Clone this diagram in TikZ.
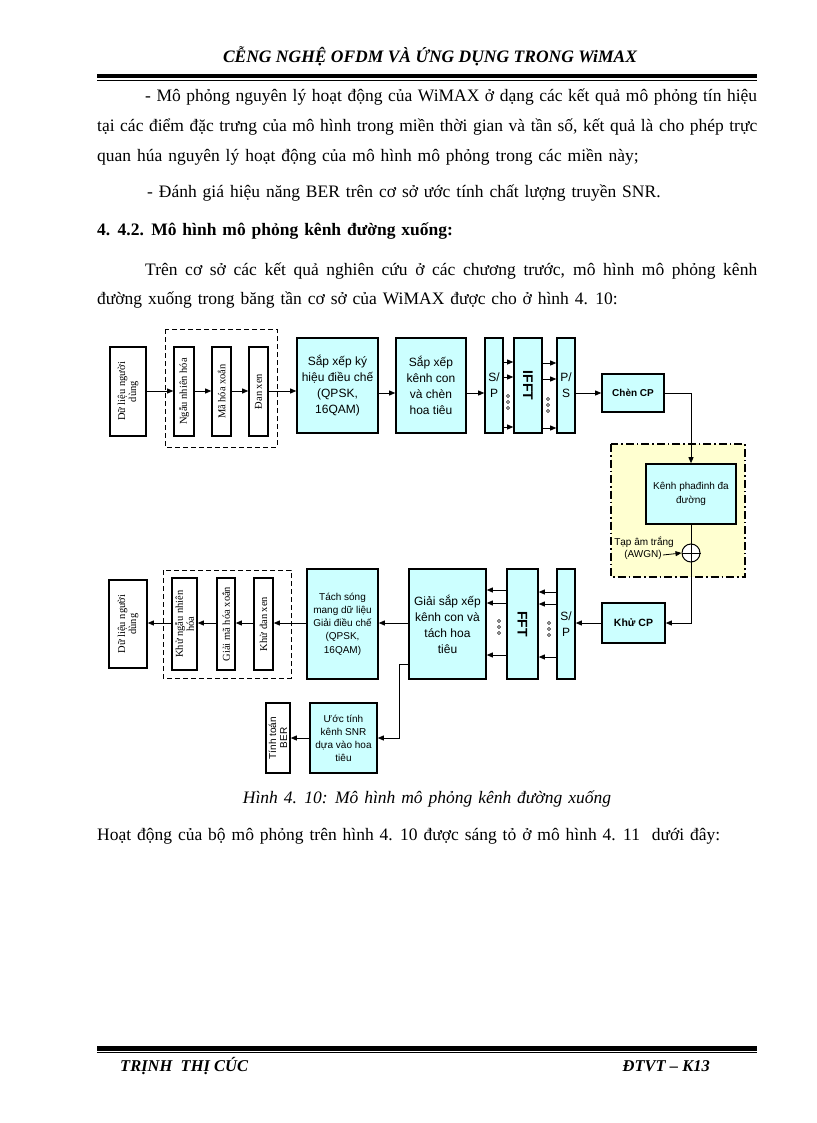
\documentclass[tikz,border=0pt]{standalone}
\usepackage{fontspec}
\setmainfont{Liberation Serif}
\newfontfamily\bodyf[WordSpace=1.35]{Liberation Serif}
\newfontfamily\sansf{Liberation Sans}
\usetikzlibrary{arrows.meta,calc}
\definecolor{cy}{RGB}{204,255,255}
\definecolor{yl}{RGB}{255,255,208}
\begin{document}
\begin{tikzpicture}[x=1pt,y=-1pt,
 sz/.style 2 args={minimum width=#1pt,minimum height=#2pt},
 wbox/.style={draw,line width=1.6pt,fill=white,inner sep=0pt},
 cbox/.style={draw,line width=1.6pt,fill=cy,inner sep=0pt,align=center,font=\sansf\fontsize{12}{16}\selectfont},
 rtxt/.style={rotate=90,align=center,inner sep=0pt,font=\fontsize{10.5}{11}\selectfont},
 arr/.style={-{Triangle[length=6pt,width=5pt]},line width=0.8pt},
 dbox/.style={line width=1pt,dash pattern=on 5pt off 3pt},
 body/.style={anchor=base west,inner sep=0pt,font=\bodyf\fontsize{17.5}{20}\selectfont},
 dotc/.style={fill=gray!50,draw=black,line width=0.4pt},
]
\useasboundingbox (0,0) rectangle (816,1123);
\fill[white] (0,0) rectangle (816,1123);

% header
\node[anchor=base,inner sep=0pt,font=\fontsize{17.5}{20}\selectfont\bfseries\itshape] (hdr) at (430,63) {CỄNG NGHỆ OFDM VÀ ỨNG DỤNG TRONG WiMAX};
\fill (97,74) rectangle (757,78.5);
\draw[line width=0.6pt] (97,80.5) -- (757,80.5);

% body text
\node[body] (l1) at (145,102) {\hbox to 612pt{- Mô phỏng nguyên lý hoạt động của WiMAX ở dạng các kết quả mô phỏng tín hiệu}};
\node[body] (l2) at (97,132) {\hbox to 660pt{tại các điểm đặc trưng của mô hình trong miền thời gian và tần số, kết quả là cho phép trực}};
\node[body] (l3) at (97,162) {quan húa nguyên lý hoạt động của mô hình mô phỏng trong các miền này;};
\node[body] (l4) at (147,198) {- Đánh giá hiệu năng BER trên cơ sở ước tính chất lượng truyền SNR.};
\node[body,font=\bodyf\fontsize{17.5}{20}\selectfont\bfseries] (h1) at (97,236) {4. 4.2. Mô hình mô phỏng kênh đường xuống:};
\node[body] (p1) at (145,275) {\hbox to 612pt{Trên cơ sở các kết quả nghiên cứu ở các chương trước, mô hình mô phỏng kênh}};
\node[body] (p2) at (97,304) {đường xuống trong băng tần cơ sở của WiMAX được cho ở hình 4. 10:};

% ---------- diagram top row ----------
\draw[dbox] (165,329) rectangle (277,447);
\node[wbox,sz={36}{89}] (du1) at (128,391.5) {};
\node[rtxt] at (du1) {Dữ liệu người\\dùng};
\node[wbox,sz={20}{89}] (ng1) at (184,391.5) {};
\node[rtxt] at (ng1) {Ngẫu nhiên hóa};
\node[wbox,sz={19}{89}] (ma1) at (221.5,391.5) {};
\node[rtxt] at (ma1) {Mã hóa xoắn};
\node[wbox,sz={19}{89}] (dx1) at (258.5,391.5) {};
\node[rtxt] at (dx1) {Đan xen};

\node[cbox,sz={81}{95}] (sx1) at (337.5,385.5) {Sắp xếp ký\\hiệu điều chế\\(QPSK,\\16QAM)};
\node[cbox,sz={70}{95}] (sx2) at (431,385.5) {Sắp xếp\\kênh con\\và chèn\\hoa tiêu};
\node[cbox,sz={18}{95}] (sp1) at (494,385.5) {S/\\P};
\node[cbox,sz={28}{95}] (ifft) at (528,385.5) {};
\node[rotate=-90,font=\sansf\fontsize{14}{16}\selectfont\bfseries] at (ifft) {IFFT};
\node[cbox,sz={18}{95}] (ps1) at (566,385.5) {P/\\S};
\node[cbox,sz={62}{38},font=\sansf\fontsize{10}{12}\selectfont\bfseries] (cp1) at (633,393) {Chèn CP};

\draw[arr] (du1.east |- 0,391) -- (ng1.west |- 0,391);
\draw[arr] (ng1.east |- 0,391) -- (ma1.west |- 0,391);
\draw[arr] (ma1.east |- 0,391) -- (dx1.west |- 0,391);
\draw[arr] (dx1.east |- 0,391) -- (sx1.west |- 0,391);
\draw[arr] (sx1.east |- 0,393) -- (sx2.west |- 0,393);
\draw[arr] (sx2.east |- 0,393) -- (sp1.west |- 0,393);
\foreach \yy in {362,377,427} \draw[arr] (sp1.east |- 0,\yy) -- (ifft.west |- 0,\yy);
\foreach \yy in {363,379,428} \draw[arr] (ifft.east |- 0,\yy) -- (ps1.west |- 0,\yy);
\foreach \yy in {396,402,408} \draw[dotc] (508,\yy) circle (1.7);
\foreach \yy in {399,405,411} \draw[dotc] (548,\yy) circle (1.7);
\draw[arr] (ps1.east |- 0,393) -- (cp1.west);

% ---------- channel ----------
\draw[fill=yl,line width=1.1pt,dash pattern=on 8pt off 3pt on 1.5pt off 3pt] (611,444) rectangle (745,577);
\node[cbox,sz={90}{60},font=\sansf\fontsize{10}{14}\selectfont] (kp) at (691,494) {Kênh phađinh đa\\đường};
\draw[arr] (cp1.east) -| (kp.north);
\node[draw,circle,minimum size=18pt,inner sep=0pt,line width=1pt,fill=white] (sum) at (691,553) {};
\draw[line width=0.8pt] (sum.north) -- (sum.south) (sum.west) -- (sum.east);
\draw[line width=0.8pt] (kp.south) -- (sum.north);
\node[font=\sansf\fontsize{10}{12}\selectfont,inner sep=0pt] (aw1) at (644,542) {Tạp âm trắng};
\node[font=\sansf\fontsize{10}{12}\selectfont,inner sep=1pt] (aw2) at (643,555) {(AWGN)};
\draw[arr] (aw2.east) -- (sum.west);

% ---------- bottom row ----------
\node[cbox,sz={63}{40},font=\sansf\fontsize{10.5}{12}\selectfont\bfseries] (kcp) at (633.5,623) {Khử CP};
\draw[arr] (sum.south) |- (kcp.east);
\node[cbox,sz={18}{110}] (sp2) at (566,624) {S/\\P};
\node[cbox,sz={31}{110}] (fft) at (522.5,624) {};
\node[rotate=-90,font=\sansf\fontsize{14}{16}\selectfont\bfseries] at (fft) {FFT};
\node[cbox,sz={77}{110}] (gsx) at (447.5,624) {Giải sắp xếp\\kênh con và\\tách hoa\\tiêu};
\node[cbox,sz={71}{110},font=\sansf\fontsize{10}{13.3}\selectfont] (ts) at (342.5,624) {Tách sóng\\mang dữ liệu\\Giải điều chế\\(QPSK,\\16QAM)};
\draw[arr] (kcp.west) -- (sp2.east |- kcp.west);
\foreach \yy in {592,604,657} \draw[arr] (sp2.west |- 0,\yy) -- (fft.east |- 0,\yy);
\foreach \yy in {590,603,655} \draw[arr] (fft.west |- 0,\yy) -- (gsx.east |- 0,\yy);
\foreach \yy in {623,629,635} \draw[dotc] (549,\yy) circle (1.7);
\foreach \yy in {621,627,633} \draw[dotc] (499,\yy) circle (1.7);
\draw[arr] (gsx.west |- 0,623) -- (ts.east |- 0,623);

\draw[dbox] (163,570) rectangle (291,678);
\node[wbox,sz={38}{88}] (du2) at (128,624) {};
\node[rtxt] at (du2) {Dữ liệu người\\dùng};
\node[wbox,sz={25}{92}] (kng) at (184.5,624) {};
\node[rtxt] at (kng) {Khử ngẫu nhiên\\hóa};
\node[wbox,sz={18}{92}] (gmx) at (226,624) {};
\node[rtxt] at (gmx) {Giải mã hóa xoắn};
\node[wbox,sz={19}{92}] (kdx) at (263.5,624) {};
\node[rtxt] at (kdx) {Khử đan xen};
\draw[arr] (ts.west |- 0,623) -- (kdx.east |- 0,623);
\draw[arr] (kdx.west |- 0,623) -- (gmx.east |- 0,623);
\draw[arr] (gmx.west |- 0,623) -- (kng.east |- 0,623);
\draw[arr] (kng.west |- 0,623) -- (du2.east |- 0,623);

\node[cbox,sz={67}{70},font=\sansf\fontsize{10}{13}\selectfont] (ut) at (343.5,738) {Ước tính\\kênh SNR\\dựa vào hoa\\tiêu};
\node[wbox,sz={24}{70}] (tt) at (278,738) {};
\node[rotate=90,align=center,inner sep=0pt,font=\sansf\fontsize{10}{11}\selectfont] at (tt) {Tính toán\\BER};
\draw[arr] (gsx.west |- 0,664) -- ++(-9,0) |- (ut.east);
\draw[arr] (ut.west) -- (tt.east);

% caption and text
\node[anchor=base,inner sep=0pt,font=\bodyf\fontsize{17.5}{20}\selectfont\itshape] (cap) at (427,803) {Hình 4. 10: Mô hình mô phỏng kênh đường xuống};
\node[body] (l5) at (97,840) {Hoạt động của bộ mô phỏng trên hình 4. 10 được sáng tỏ ở mô hình 4. 11\ \ dưới đây:};

% footer
\fill (97,1046) rectangle (757,1050.5);
\draw[line width=0.6pt] (97,1052.5) -- (757,1052.5);
\node[anchor=base west,inner sep=0pt,font=\fontsize{16.5}{20}\selectfont\bfseries\itshape] (f1) at (120,1071) {TRỊNH\ \ THỊ CÚC};
\node[anchor=base east,inner sep=0pt,font=\fontsize{16.5}{20}\selectfont\bfseries\itshape] (f2) at (710,1071) {ĐTVT – K13};
\end{tikzpicture}
\end{document}
